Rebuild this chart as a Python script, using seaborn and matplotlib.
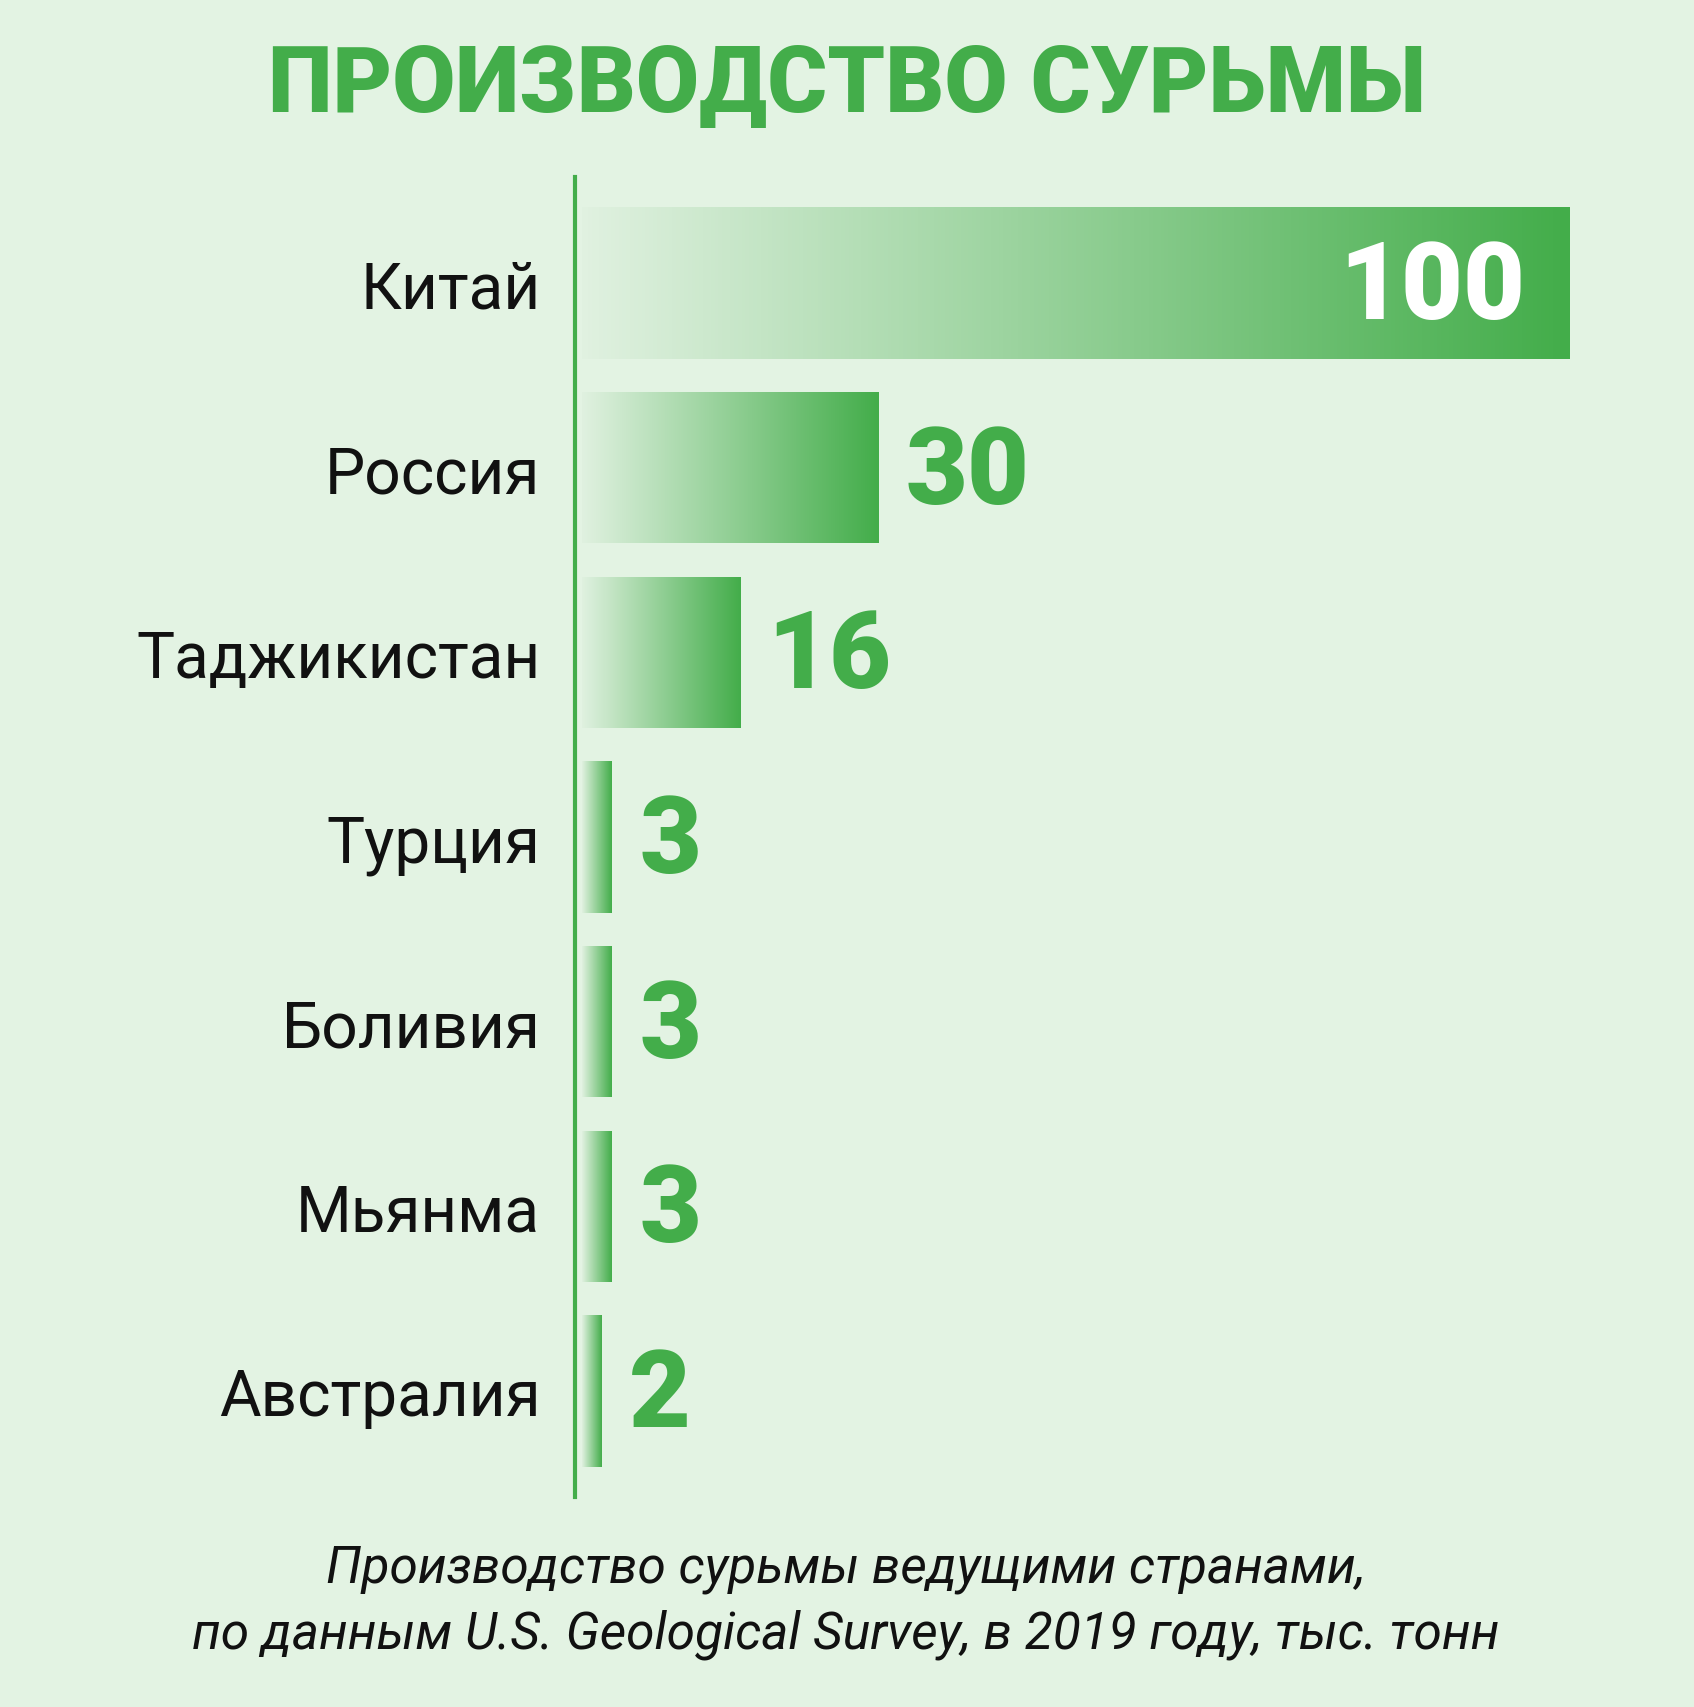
import matplotlib
matplotlib.use("Agg")
import matplotlib.pyplot as plt
import numpy as np
import pandas as pd
import seaborn as sns
from matplotlib.colors import LinearSegmentedColormap

COUNTRIES = ["Китай", "Россия", "Таджикистан", "Турция", "Боливия", "Мьянма", "Австралия"]
VALUES = [100, 30, 16, 3, 3, 3, 2]
TITLE = "ПРОИЗВОДСТВО СУРЬМЫ"
CAPTION = ("Производство сурьмы ведущими странами,\n"
           "по данным U.S. Geological Survey, в 2019 году, тыс. тонн")

BG = "#e3f3e3"
GREEN = "#43ad4a"

sns.set_theme(style="white")
plt.rcParams["font.family"] = ["Roboto", "DejaVu Sans"]

df = pd.DataFrame({"country": COUNTRIES, "value": VALUES})

fig = plt.figure(figsize=(16.94, 17.08), dpi=100, facecolor=BG)
ax = fig.add_axes([575 / 1694, 1 - 1498 / 1708, 1 - 575 / 1694, (1498 - 178) / 1708])
ax.set_facecolor(BG)

sns.barplot(data=df, x="value", y="country", orient="h", width=0.82,
            color=GREEN, ax=ax)

# gradient fill for each bar, light on the left, full green at the end
cmap = LinearSegmentedColormap.from_list("bar", ["#e0f1e0", GREEN])
grad = np.linspace(0, 1, 256).reshape(1, -1)
for p in ax.patches:
    x0, y0, w, h = p.get_x(), p.get_y(), p.get_width(), p.get_height()
    p.set_facecolor("none")
    p.set_edgecolor("none")
    im = ax.imshow(grad, cmap=cmap, aspect="auto", interpolation="bicubic",
                   extent=[x0, x0 + w, y0 + h, y0], zorder=2)
    im.set_clip_path(p)
ax.set_xlim(-0.7, 112.6)
ax.set_ylim(len(COUNTRIES) - 1 + 0.575, -0.575)

# value labels
for i, v in enumerate(VALUES):
    if v == max(VALUES):
        ax.text(v - 4.5, i + 0.03, str(v), ha="right", va="center", color="white",
                fontsize=77, fontweight="black", zorder=3)
    else:
        ax.text(v + 2.8, i + 0.03, str(v), ha="left", va="center",
                color=GREEN, fontsize=77, fontweight="black", zorder=3)

for s in ["top", "right", "bottom"]:
    ax.spines[s].set_visible(False)
ax.spines["left"].set_color(GREEN)
ax.spines["left"].set_linewidth(3)
ax.spines["left"].set_position(("data", -0.7))

ax.set_xticks([])
ax.set_xlabel("")
ax.set_ylabel("")
ax.tick_params(axis="y", length=0, pad=25, labelsize=46, labelcolor="#111111")

fig.text(0.5, 1 - 87 / 1708, TITLE, ha="center", va="center", color=GREEN,
         fontsize=66, fontweight="black")
fig.text(846 / 1694, 1 - 1602 / 1708, CAPTION, ha="center", va="center",
         fontsize=37, style="italic", color="#111111", linespacing=1.4)

fig.savefig("out.png", dpi=100, facecolor=BG)
